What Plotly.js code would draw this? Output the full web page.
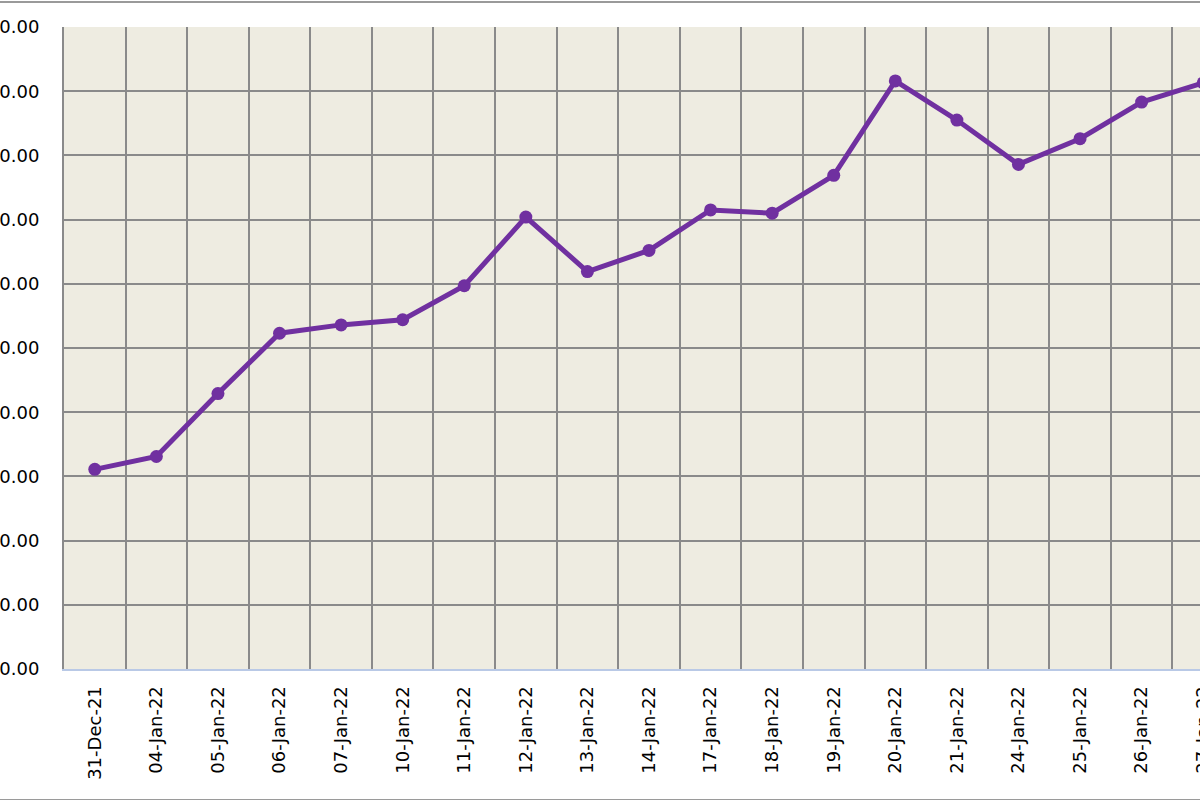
<!DOCTYPE html>
<html>
<head>
<meta charset="utf-8">
<script src="https://cdn.plot.ly/plotly-3.0.1.min.js"></script>
<style>
  html, body { margin: 0; padding: 0; width: 1200px; height: 800px; overflow: hidden; background: #fff; }
  #frame { position: absolute; left: -150px; top: 1px; width: 1500px; height: 796px;
           border-top: 2px solid #9a9a9a; border-bottom: 2px solid #9a9a9a; }
  #chart { position: absolute; left: -150px; top: 0; width: 1500px; height: 800px; }
</style>
</head>
<body>
<div id="frame"></div>
<div id="chart"></div>
<script>
const dates = ['31-Dec-21', '04-Jan-22', '05-Jan-22', '06-Jan-22', '07-Jan-22', '10-Jan-22',
  '11-Jan-22', '12-Jan-22', '13-Jan-22', '14-Jan-22', '17-Jan-22', '18-Jan-22', '19-Jan-22',
  '20-Jan-22', '21-Jan-22', '24-Jan-22', '25-Jan-22', '26-Jan-22', '27-Jan-22']

const values = [31.1, 33.1, 42.9, 52.3, 53.6, 54.4, 59.7, 70.4, 61.9, 65.2,
  71.5, 71.0, 76.9, 91.6, 85.5, 78.6, 82.6, 88.3, 91.3]

const yMin = 0
const yMax = 100
const yStep = 10

const gridColor = '#8a8a8a'
const textFont = { family: 'DejaVu Sans, Verdana, sans-serif', size: 18, color: '#000' }

const data = [{
  x: dates,
  y: values,
  type: 'scatter',
  mode: 'lines+markers',
  line: { color: '#7030a0', width: 5 },
  marker: { color: '#7030a0', size: 13 },
  cliponaxis: false,
  showlegend: false
}]

const layout = {
  width: 1500,
  height: 800,
  margin: { l: 214, r: 116, t: 27, b: 131 },
  paper_bgcolor: 'rgba(0,0,0,0)',
  plot_bgcolor: '#eeece1',
  font: textFont,
  xaxis: {
    type: 'category',
    range: [-0.5, dates.length - 0.5],
    tickson: 'boundaries',
    showgrid: true,
    gridcolor: gridColor,
    gridwidth: 2,
    showline: true,
    linecolor: '#b9c9e6',
    linewidth: 2,
    ticks: '',
    tickangle: -90,
    tickfont: textFont,
    ticklabelstandoff: 8,
    fixedrange: true
  },
  yaxis: {
    range: [yMin, yMax],
    dtick: yStep,
    tick0: yMin,
    tickformat: '.2f',
    showgrid: true,
    gridcolor: gridColor,
    gridwidth: 2,
    zeroline: false,
    showline: true,
    linecolor: gridColor,
    linewidth: 2,
    ticks: '',
    tickfont: textFont,
    ticklabelstandoff: 19,
    fixedrange: true
  }
}

Plotly.newPlot('chart', data, layout, { displayModeBar: false, staticPlot: true })
</script>
</body>
</html>
